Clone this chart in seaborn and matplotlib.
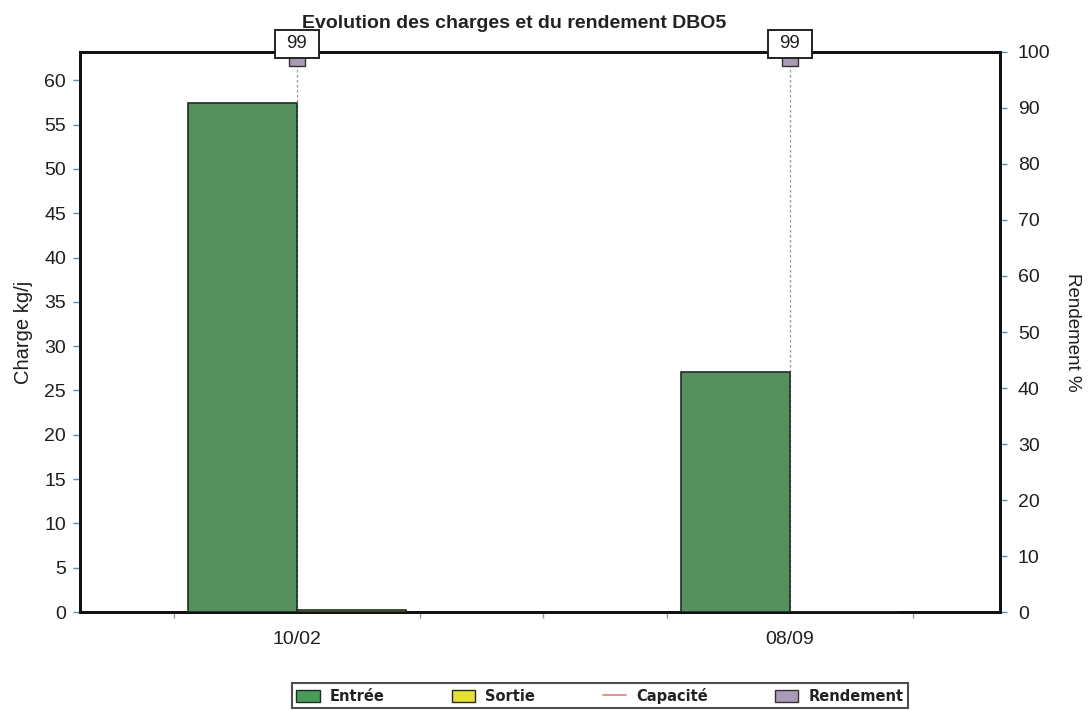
import matplotlib
matplotlib.use("Agg")
import matplotlib.pyplot as plt
from matplotlib.patches import Patch, Rectangle
from matplotlib.lines import Line2D
from matplotlib.ticker import MultipleLocator, FixedLocator
from matplotlib import transforms
from matplotlib import font_manager
import seaborn as sns
import pandas as pd

# Data
dates = ["10/02", "08/09"]
entree = [57.4, 27.1]
sortie = [0.25, 0.05]
rendement = [99, 99]

green = "#4c9a58"
yellow = "#e8e030"
capacite_color = "#d98080"
rend_color = "#a99ab8"
ink = "#1e1e1e"

sns.set_theme(style="white")
plt.rcParams["font.family"] = ["Liberation Sans", "DejaVu Sans"]

installed = {f.name for f in font_manager.fontManager.ttflist}
title_family = ("Liberation Sans Narrow" if "Liberation Sans Narrow" in installed
                else "Liberation Sans")
title_size = 17 if title_family == "Liberation Sans Narrow" else 14

df = pd.DataFrame({
    "date": dates * 2,
    "serie": ["Entrée"] * len(dates) + ["Sortie"] * len(dates),
    "charge": entree + sortie,
})

fig = plt.figure(figsize=(10.88, 7.11), dpi=100)
ax = fig.add_axes([0.0735, 0.1392, 0.8455, 0.7877])

sns.barplot(data=df, x="date", y="charge", hue="serie", order=dates,
            hue_order=["Entrée", "Sortie"],
            palette={"Entrée": green, "Sortie": yellow},
            width=0.442, dodge=True, ax=ax, legend=False,
            edgecolor="#1c2e24", linewidth=1.2, zorder=3)

ax.set_xlim(-0.44, 1.426)
ax.set_ylim(0, 63.2)
ax.yaxis.set_major_locator(MultipleLocator(5))
ax.xaxis.set_major_locator(FixedLocator([0, 1]))
ax.set_xticklabels(dates)
ax.xaxis.set_minor_locator(FixedLocator([-0.25, 0.25, 0.5, 0.75, 1.25]))
ax.tick_params(axis="y", which="major", direction="out", length=5, width=1,
               color="#6688aa", labelsize=14, colors=ink, pad=5)
ax.tick_params(axis="x", which="major", direction="out", length=5, width=1,
               color="#6688aa", labelsize=14, colors=ink, pad=9)
ax.tick_params(axis="x", which="minor", direction="out", length=4, width=1,
               color="#7799bb", bottom=True)
ax.set_xlabel("")
ax.set_ylabel("Charge kg/j", fontsize=14.5, color=ink, labelpad=8)
for sp in ax.spines.values():
    sp.set_color("#111111")
    sp.set_linewidth(2)

# Rendement on the secondary axis
ax2 = ax.twinx()
ax2.set_ylim(0, 100)
ax2.yaxis.set_major_locator(MultipleLocator(10))
ax2.tick_params(axis="y", direction="out", length=5, width=1, color="#6688aa",
                labelsize=14, colors=ink, pad=8)
ax2.set_ylabel("Rendement %", fontsize=13.5, color=ink, rotation=270,
               labelpad=22)
for sp in ax2.spines.values():
    sp.set_color("#111111")
    sp.set_linewidth(2)

xpos = list(range(len(dates)))
for x, r in zip(xpos, rendement):
    ax2.plot([x, x], [0, r], linestyle=(0, (2, 2)), color="#8899aa",
             linewidth=0.9, zorder=1)
sns.scatterplot(x=xpos, y=rendement, marker="s", s=120, color=rend_color,
                edgecolor="#333333", linewidth=1, ax=ax2, zorder=5, legend=False)

# value labels: framed boxes just above each Rendement point
px = transforms.Affine2D().scale(fig.dpi / 100.0)
for x, r in zip(xpos, rendement):
    anchor = transforms.ScaledTranslation(x, r, ax2.transData)
    box = Rectangle((-22, 0), 44, 28, transform=px + anchor, facecolor="white",
                    edgecolor="#222222", linewidth=1.4, zorder=7,
                    clip_on=False)
    fig.add_artist(box)
    fig.text(0, 14, f"{r}", transform=px + anchor, ha="center", va="center",
             fontsize=13.5, color=ink, zorder=8)

# keep bars above the dashed guides
ax.set_zorder(ax2.get_zorder() + 1)
ax.patch.set_visible(False)
ax2.patch.set_visible(True)
ax2.patch.set_facecolor("white")

fig.text(0.473, 0.967, "Evolution des charges et du rendement DBO5",
         ha="center", va="center", fontsize=title_size, fontweight="bold",
         family=[title_family, "DejaVu Sans"], color="#222222", zorder=10)

handles = [
    Patch(facecolor=green, edgecolor="#1c2e24", label="Entrée"),
    Patch(facecolor=yellow, edgecolor="#1c2e24", label="Sortie"),
    Line2D([0], [0], color=capacite_color, lw=1.2, label="Capacité"),
    Patch(facecolor=rend_color, edgecolor="#333333", label="Rendement"),
]
leg = fig.legend(handles=handles, loc="lower left",
                 bbox_to_anchor=(292 / 1088, 3 / 711, 616 / 1088, 28 / 711),
                 mode="expand", ncol=4, frameon=True, fontsize=11,
                 handlelength=1.6, handleheight=0.9, handletextpad=0.7,
                 borderpad=0.3, borderaxespad=0, fancybox=False,
                 prop={"family": "DejaVu Sans", "weight": "bold", "size": 10.5})
leg.get_frame().set_edgecolor("#222222")
leg.get_frame().set_linewidth(1.5)
for t in leg.get_texts():
    t.set_color("#222222")

fig.savefig("out.png", dpi=100)
